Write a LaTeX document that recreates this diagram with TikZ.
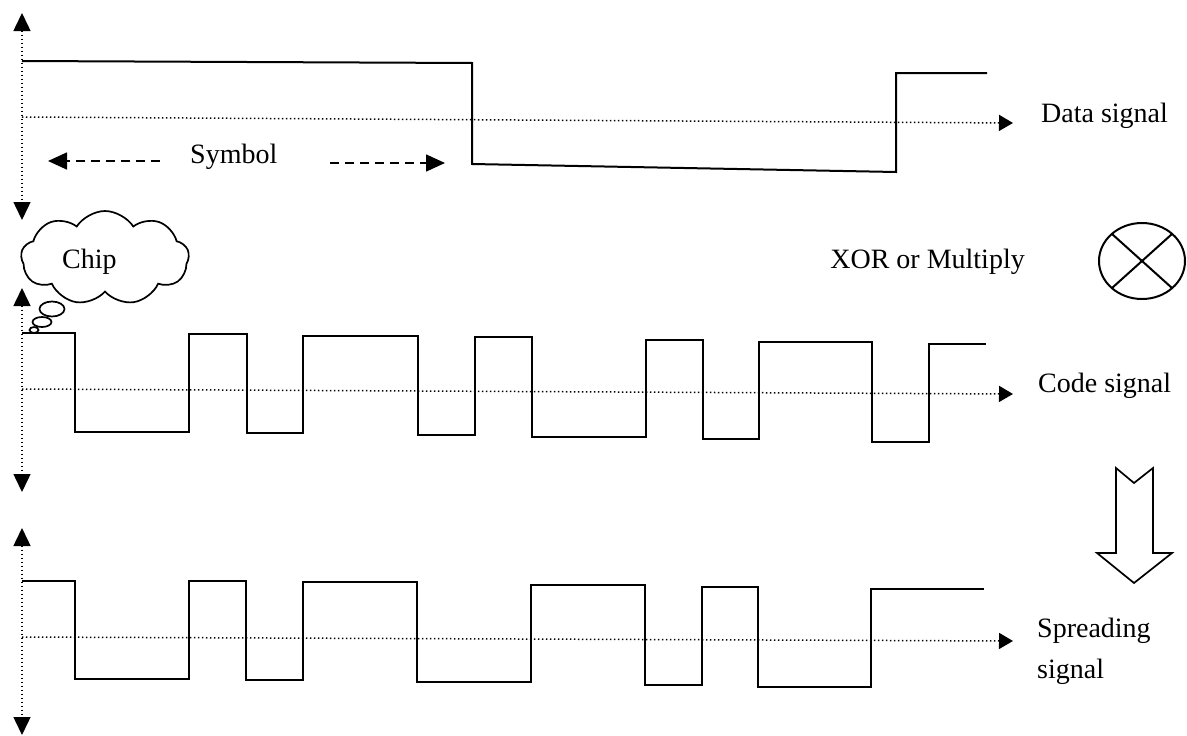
\documentclass[tikz,border=0pt]{standalone}
\usepackage{fontspec}
\setmainfont{Liberation Serif}
\usetikzlibrary{arrows.meta,shapes.symbols}
\begin{document}
\begin{tikzpicture}[x=1pt,y=-1pt,
  wave/.style={line width=2pt, line join=miter},
  dots/.style={line width=1.5pt, dash pattern=on 1.4pt off 2.6pt},
  midline/.style={dots, -{Triangle[length=14pt,width=16pt]}},
  axisline/.style={dots, {Triangle[length=18pt,width=17pt]}-{Triangle[length=18pt,width=17pt]}},
  symarrow/.style={line width=1.6pt, dash pattern=on 9pt off 6pt, -{Triangle[length=19pt,width=17pt]}},
  lbl/.style={font=\fontsize{28}{32}\selectfont, inner sep=0pt, anchor=base west},
  outline/.style={line width=1.7pt}
]
\useasboundingbox (0,0) rectangle (1187,736);

% axes
\coordinate (a1t) at (22,13);  \coordinate (a1b) at (22,220);
\coordinate (a2t) at (22,288); \coordinate (a2b) at (22,492);
\coordinate (a3t) at (22,528); \coordinate (a3b) at (22,735);
\draw[axisline] (a1t) -- (a1b);
\draw[axisline] (a2t) -- (a2b);
\draw[axisline] (a3t) -- (a3b);

% data signal
\coordinate (d0) at (22,117); \coordinate (d1) at (1013,123);
\draw[midline] (d0) -- (d1);
\draw[wave] (22,61) -- (472,63) -- (472,164) -- (896,172) -- (896,73) -- (987,73);

% symbol arrows
\coordinate (s1) at (160,161); \coordinate (s1t) at (48,161);
\coordinate (s2) at (330,163); \coordinate (s2t) at (445,163);
\draw[symarrow] (s1) -- (s1t);
\draw[symarrow] (s2) -- (s2t);
\node[lbl] (symbol) at (190,163) {Symbol};
\node[lbl] (data) at (1041,122) {Data signal};

% cloud
\node[cloud, draw, outline, cloud puffs=9, cloud puff arc=115, aspect=1.8,
      minimum width=168pt, minimum height=94pt, inner sep=0pt] (cloud) at (105,258) {};
\node[lbl] (chip) at (62,268) {Chip};
\draw[outline, fill=white] (52,309) ellipse [x radius=12.5, y radius=7.5];
\draw[outline, fill=white] (42,322) ellipse [x radius=9.5, y radius=5];
\draw[outline, fill=white] (34,330) ellipse [x radius=4.5, y radius=3];

% XOR
\node[lbl, anchor=base east] (xor) at (1025,268) {XOR or Multiply};
\draw[line width=2pt] (1142,261) ellipse [x radius=43, y radius=38];
\draw[line width=2pt] (1112,234) -- (1172,288);
\draw[line width=2pt] (1172,234) -- (1112,288);

% code signal
\coordinate (c0) at (22,389); \coordinate (c1) at (1013,394);
\draw[midline] (c0) -- (c1);
\draw[wave] (22,333) -- (75,333) -- (75,432) -- (189,432) -- (189,334) -- (247,334)
  -- (247,433) -- (303,433) -- (303,336) -- (418,336) -- (418,435) -- (475,435)
  -- (475,337) -- (532,337) -- (532,437) -- (646,437) -- (646,340) -- (703,340)
  -- (703,439) -- (759,439) -- (759,342) -- (872,342) -- (872,442) -- (929,442)
  -- (929,344) -- (986,344);
\node[lbl] (code) at (1038,392) {Code signal};

% big down arrow
\draw[outline, line join=miter] (1116,468) -- (1134,483) -- (1153,468) -- (1153,553)
  -- (1172,553) -- (1134,583) -- (1097,553) -- (1116,553) -- cycle;

% spreading signal
\coordinate (p0) at (22,637); \coordinate (p1) at (1013,641);
\draw[midline] (p0) -- (p1);
\draw[wave] (22,581) -- (75,581) -- (75,679) -- (189,679) -- (189,581) -- (246,581)
  -- (246,680) -- (303,680) -- (303,582) -- (417,582) -- (417,682) -- (531,682)
  -- (531,585) -- (645,585) -- (645,685) -- (702,685) -- (702,587) -- (758,587)
  -- (758,687) -- (871,687) -- (871,589) -- (984,589);
\node[lbl] (spread1) at (1037,637) {Spreading};
\node[lbl] (spread2) at (1037,678) {signal};
\end{tikzpicture}
\end{document}
